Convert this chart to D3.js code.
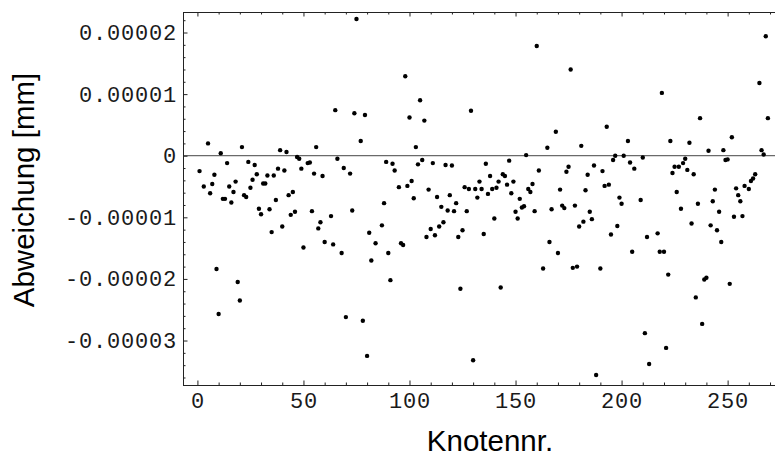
<!DOCTYPE html>
<html><head><meta charset="utf-8">
<script src="https://cdn.jsdelivr.net/npm/d3@7"></script>
<style>body{margin:0;background:#fff}</style></head>
<body>
<svg id="c" width="775" height="461"></svg>
<script>
// node numbers (Knotennr.)
const knoten = [1,3,5,6,7,8,9,10,11,12,13,14,15,16,17,18,19,20,21,22,23,24,25,26,27,28,29,30,
31,32,33,34,35,36,37,38,39,40,41,42,43,44,45,46,47,48,49,50,52,53,54,55,56,57,58,59,60,63,64,65,66,68,69,70,
72,73,74,75,77,78,79,80,81,82,84,87,88,89,90,91,92,93,95,96,97,98,99,100,101,102,103,104,105,106,107,108,109,110,
111,112,113,114,115,116,117,118,119,120,121,122,123,124,125,126,127,128,129,130,131,132,133,134,135,136,137,138,139,
140,141,142,143,144,145,146,147,148,149,150,151,152,153,154,155,156,157,158,159,160,161,163,165,166,167,169,170,
171,172,173,174,175,176,177,178,179,180,181,182,183,184,185,186,187,188,190,191,192,193,194,195,196,197,198,199,200,
201,203,204,205,206,209,210,211,212,213,217,218,219,220,221,222,223,224,225,226,227,228,229,230,231,232,233,234,235,
236,237,238,239,240,241,242,243,244,245,246,247,248,249,250,251,252,253,254,255,256,257,258,260,261,262,263,265,266,267,268,269];
// deviation in units of 1e-5 mm (Abweichung)
const abweichungE5 = [-0.25,-0.50,0.20,-0.61,-0.46,-0.31,-1.84,-2.57,0.04,-0.70,-0.70,-0.12,-0.50,-0.76,-0.59,-0.42,-2.05,-2.35,0.14,-0.64,-0.67,-0.10,-0.52,-0.39,-0.15,-0.30,-0.86,-0.95,
-0.45,-0.45,-0.32,-0.87,-1.24,-0.32,-0.72,-0.21,0.09,-1.15,-0.24,0.06,-0.64,-0.96,-0.59,-0.91,-0.02,-0.05,-0.21,-1.49,-0.12,-0.11,-0.90,-0.29,0.14,-1.18,-1.08,-0.33,-1.40,-0.98,-1.44,0.74,-0.05,-1.58,-0.20,-2.62,
-0.29,-0.89,0.69,2.22,0.24,-2.68,0.66,-3.25,-1.25,-1.70,-1.42,-1.13,-0.77,-0.10,-1.58,-2.02,-0.13,-0.24,-0.51,-1.42,-1.45,1.29,-0.49,0.62,-0.41,-0.69,0.14,-0.14,0.90,-0.07,0.57,-1.32,-0.55,-1.19,
-0.12,-1.29,-0.67,-1.15,-0.83,-1.08,-0.15,-0.89,-0.64,-0.16,-0.90,-0.77,-1.32,-2.16,-1.21,-0.51,-0.90,-0.54,0.73,-3.32,-0.54,-0.68,-0.42,-0.54,-1.27,-0.13,-0.62,-0.33,-0.54,
-1.02,-0.52,-0.42,-2.14,-0.30,-0.33,-0.47,-0.08,-0.61,-0.42,-0.91,-1.02,-0.70,-0.84,-0.82,0.01,-0.54,-0.59,-0.46,-0.90,1.78,-0.24,-1.83,0.13,-1.40,-0.87,0.39,-1.58,
-0.55,-0.81,-0.85,-0.26,-0.18,1.40,-1.82,-0.81,-1.80,-1.15,0.16,-1.07,-0.56,-0.31,-0.91,-1.03,-0.16,-3.56,-1.83,-0.25,-0.49,0.47,-0.47,-1.28,-0.07,0.00,-1.14,-0.68,-0.78,
0.00,0.24,-0.11,-1.56,-0.21,-0.72,-0.03,-2.88,-1.32,-3.38,-1.26,-1.56,1.02,-1.56,-3.12,-1.93,0.24,-0.28,-0.18,-0.59,-0.18,-0.86,-0.12,-0.05,-0.23,0.21,-1.10,-0.30,-2.30,
-0.78,0.61,-2.73,-2.01,-1.98,0.08,-1.13,-0.74,-0.55,-1.21,-0.91,-1.40,0.09,-0.07,-0.06,-2.08,0.30,-0.99,-0.53,-0.64,-0.74,-0.98,-0.49,-0.54,-0.41,-0.37,-0.30,1.18,0.09,0.02,1.94,0.61];
const abweichung = abweichungE5.map(v => v * 1e-5);

const xMajor = [0, 50, 100, 150, 200, 250];
const xMinor = [10,20,30,40,60,70,80,90,110,120,130,140,160,170,180,190,210,220,230,240,260,270];
const yMajor = [-0.00003, -0.00002, -0.00001, 0, 0.00001, 0.00002];
const yMajorLabels = ["-0.00003", "-0.00002", "-0.00001", "0", "0.00001", "0.00002"];
const yMinor = [-0.000036,-0.000034,-0.000032,-0.000028,-0.000026,-0.000024,-0.000022,-0.000018,-0.000016,-0.000014,-0.000012,
  -0.000008,-0.000006,-0.000004,-0.000002,0.000002,0.000004,0.000006,0.000008,0.000012,0.000014,0.000016,0.000018,0.000022];
const xTitle = "Knotennr.";
const yTitle = "Abweichung [mm]";

const svg = d3.select("#c");
const L = 183, T = 12, B = 385, R = 776.6;
const x = d3.scaleLinear().domain([-6.8, 273.1]).range([L, R]);
const y = d3.scaleLinear().domain([-3.722e-5, 2.333e-5]).range([B, T]);

const tickFont = "'Liberation Mono', 'DejaVu Sans Mono', monospace";
function style(g) {
  g.select(".domain").remove();
  g.selectAll(".tick line").attr("stroke", "#222").attr("stroke-width", 1);
  g.selectAll("text").attr("font-family", tickFont).attr("font-size", 22)
    .attr("letter-spacing", 0.8).attr("fill", "#1a1a1a");
}

// zero line
svg.append("line").attr("x1", L).attr("x2", R).attr("y1", y(0)).attr("y2", y(0))
  .attr("stroke", "#444").attr("stroke-width", 1);

// bottom
svg.append("g").attr("transform", `translate(0,${B})`)
  .call(d3.axisBottom(x).tickValues(xMajor).tickSize(-4.5).tickPadding(7).tickFormat(d3.format("d")))
  .call(style);
svg.append("g").attr("transform", `translate(0,${B})`)
  .call(d3.axisBottom(x).tickValues(xMinor).tickSize(-2.5).tickFormat(""))
  .call(style);
// top
svg.append("g").attr("transform", `translate(0,${T})`)
  .call(d3.axisTop(x).tickValues(xMajor).tickSize(-4.5).tickFormat(""))
  .call(style);
svg.append("g").attr("transform", `translate(0,${T})`)
  .call(d3.axisTop(x).tickValues(xMinor).tickSize(-2.5).tickFormat(""))
  .call(style);
// left
svg.append("g").attr("transform", `translate(${L},0)`)
  .call(d3.axisLeft(y).tickValues(yMajor).tickSize(-4.5).tickPadding(6)
    .tickFormat((d, i) => yMajorLabels[i]))
  .call(style);
svg.append("g").attr("transform", `translate(${L},0)`)
  .call(d3.axisLeft(y).tickValues(yMinor).tickSize(-2.5).tickFormat(""))
  .call(style);

// frame
svg.append("rect").attr("x", L + 0.5).attr("y", T + 0.5).attr("width", R - L).attr("height", B - T)
  .attr("fill", "none").attr("stroke", "#222").attr("stroke-width", 1);

// points
svg.append("g").selectAll("circle").data(knoten).join("circle")
  .attr("cx", (d) => x(d)).attr("cy", (d, i) => y(abweichung[i])).attr("r", 2.2).attr("fill", "#000");

// titles
svg.append("text").attr("x", 490).attr("y", 451).attr("text-anchor", "middle")
  .attr("font-family", "'Liberation Sans', Arial, sans-serif").attr("font-size", 29.5).attr("fill", "#000").text(xTitle);
svg.append("text").attr("transform", "translate(34,190) rotate(-90)").attr("text-anchor", "middle")
  .attr("font-family", "'Liberation Sans', Arial, sans-serif").attr("font-size", 29.5).attr("fill", "#000").text(yTitle);
</script>
</body></html>
